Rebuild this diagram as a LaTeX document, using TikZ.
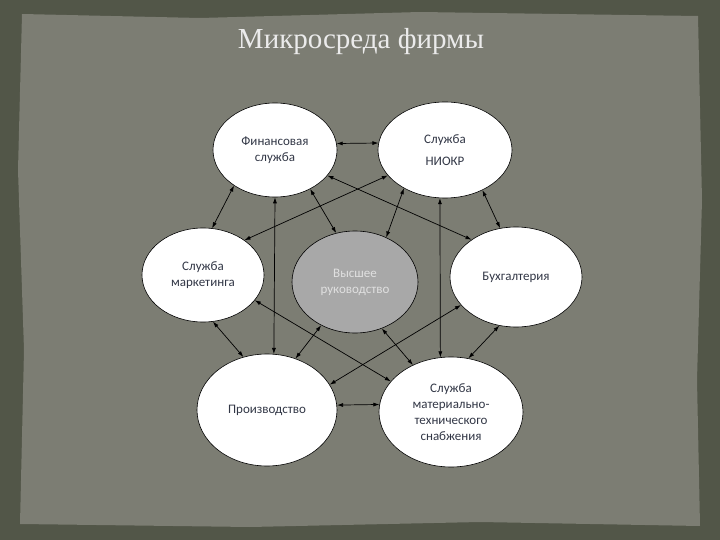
\documentclass[tikz,border=0pt]{standalone}
\usepackage{fontspec}
\setmainfont{Liberation Serif}
\newfontfamily\bodyfont{Carlito}
\usetikzlibrary{shapes.geometric,arrows.meta}
\definecolor{frame}{RGB}{82,86,72}
\definecolor{paper}{RGB}{124,125,115}
\definecolor{txt}{RGB}{50,55,70}
\tikzset{
  unit/.style={ellipse,draw=black,line width=0.6pt,fill=white,inner sep=0pt,align=center,font=\bodyfont\fontsize{13}{16}\selectfont,text=txt},
  link/.style={{Latex[length=6pt,width=4pt]}-{Latex[length=6pt,width=4pt]},line width=0.7pt,black}
}
\begin{document}
\begin{tikzpicture}[x=1pt,y=-1pt]
\fill[frame] (0,0) rectangle (720,540);
\fill[paper] (22,14) -- (200,18) -- (420,12) -- (698,16) -- (702,200) -- (697,380) -- (700,526) -- (480,522) -- (250,527) -- (20,524) -- (24,350) -- (18,170) -- cycle;
\node[font=\fontsize{29}{32}\selectfont,text=white!92!black] (title) at (361,42) {Микросреда фирмы};
\node[unit,minimum width=124,minimum height=94] (fin) at (275,150) {Финансовая\\служба};
\node[unit,minimum width=134,minimum height=96] (niokr) at (445,150) {Служба\\[6pt]НИОКР};
\node[unit,minimum width=122,minimum height=94] (mark) at (203,275) {Служба\\маркетинга};
\node[unit,minimum width=126,minimum height=102,fill=black!34,text=black!12] (top) at (355,282) {Высшее\\руководство};
\node[unit,minimum width=132,minimum height=100] (buh) at (516,277) {Бухгалтерия};
\node[unit,minimum width=140,minimum height=112] (prod) at (267,410) {Производство};
\node[unit,minimum width=144,minimum height=110] (mts) at (451,412) {Служба\\материально-\\технического\\снабжения};
\draw[link] (fin.6) -- (niokr.174);
\draw[link] (fin.221) -- (mark.79);
\draw[link] (fin.312) -- (top.111);
\draw[link] (fin.334) -- (buh.140);
\draw[link] (fin.270) -- (prod.83);
\draw[link] (niokr.204) -- (mark.40);
\draw[link] (niokr.223) -- (top.55);
\draw[link] (niokr.264) -- (mts.101);
\draw[link] (niokr.313) -- (buh.108);
\draw[link] (mark.282) -- (prod.114);
\draw[link] (mark.334) -- (mts.153);
\draw[link] (top.232) -- (prod.61);
\draw[link] (top.300) -- (mts.129);
\draw[link] (buh.207) -- (prod.22);
\draw[link] (buh.251) -- (mts.72);
\draw[link] (prod.4) -- (mts.174);
\end{tikzpicture}
\end{document}
